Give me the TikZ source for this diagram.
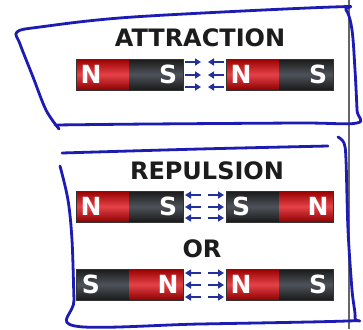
\documentclass[tikz,border=0pt]{standalone}
\usepackage{fontspec}
\setmainfont{DejaVu Sans}
\usetikzlibrary{arrows.meta}

\definecolor{penblue}{HTML}{1C1CB4}
\definecolor{fieldblue}{HTML}{22309C}
\definecolor{inkgray}{HTML}{1C1C1C}

% one bar magnet: name, left x, top y, left pole, right pole
\newcommand{\magnet}[5]{%
	\shade[pole#4] (#2,#3) rectangle ++(53.5,31);
	\shade[pole#5] (#2+53.5,#3) rectangle ++(53.5,31);
	\draw[magedge] (#2,#3) rectangle ++(107,31);
	\node[poletext] (#1-l) at (#2+15,#3+15.5) {#4};
	\node[poletext] (#1-r) at (#2+92,#3+15.5) {#5};
}

\begin{document}
\begin{tikzpicture}
		[x=1pt,y=-1pt,
		title/.style={font=\fontsize{24}{24}\selectfont\bfseries,
			text=inkgray, inner sep=0pt},
		poletext/.style={font=\fontsize{25}{25}\selectfont\bfseries,
			text=white, inner sep=0pt},
		poleN/.style={top color=red!60!black, bottom color=red!55!black,
			middle color={rgb,255:red,228;green,66;blue,72}},
		poleS/.style={top color=black!90, bottom color=black!90,
			middle color={rgb,255:red,78;green,82;blue,90}},
		magedge/.style={draw=black!80, line width=0.8pt},
		field/.style={draw=fieldblue, line width=2pt,
			-{Triangle[length=6pt,width=7pt]}},
		pen/.style={draw=penblue, line width=2.8pt, line cap=round,
			line join=round}
		]
		\useasboundingbox (0,0) rectangle (363,329);
		\fill[white] (0,0) rectangle (363,329);
		\draw[black!60, line width=1.2pt] (349,0) -- (349,329);
		
		% attraction
		\node[title] (attr) at (200,38) {ATTRACTION};
		\magnet{a1}{76}{59}{N}{S}
		\magnet{a2}{226}{59}{N}{S}
		\foreach \y in {62,75,87} {
			\draw[field] (185,\y) -- (201,\y);
			\draw[field] (224,\y) -- (208,\y);
		}
		
		% repulsion
		\node[title] (rep) at (207,171) {REPULSION};
		\magnet{r1}{76}{191}{N}{S}
		\magnet{r2}{226}{191}{S}{N}
		\foreach \y in {195,207,218} {
			\draw[field] (201,\y) -- (185,\y);
			\draw[field] (208,\y) -- (224,\y);
		}
		\node[title] (or) at (202,249) {OR};
		\magnet{r3}{76}{269}{S}{N}
		\magnet{r4}{226}{269}{N}{S}
		\foreach \y in {273,285,297} {
			\draw[field] (201,\y) -- (185,\y);
			\draw[field] (208,\y) -- (224,\y);
		}
		
		% pen marks
		\draw[pen] plot[smooth, tension=0.55] coordinates {(59,129) (46,110)
			(33,77) (20,44) (17,32) (40,27) (133,17) (333,7) (346,10) (352,30)
			(355,70) (357,110) (357,123) (300,123) (150,124) (55,125)};
		\draw[pen] plot[smooth, tension=0.5] coordinates {(62,153) (200,149)
			(328,146)};
		\draw[pen] plot[smooth, tension=0.55] coordinates {(60,166) (68,200)
			(72,240) (74,300) (75,326) (200,324) (347,321) (355,318) (352,290)
			(348,230) (346,160) (344,143) (338,137)};
	\end{tikzpicture}
\end{document}
